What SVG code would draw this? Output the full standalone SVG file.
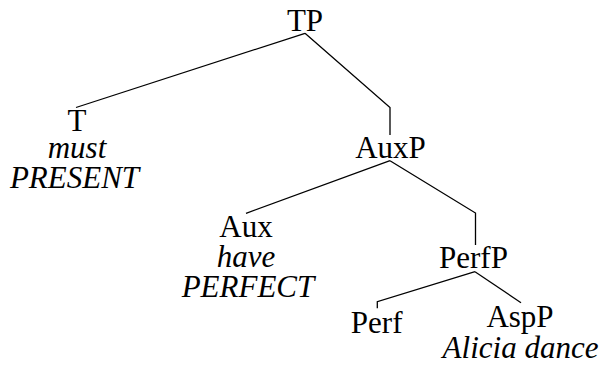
<svg xmlns="http://www.w3.org/2000/svg" width="602" height="369" viewBox="0 0 602 369">
<style>
text{font-family:"Liberation Serif","Times New Roman",serif;font-size:31px;fill:#000;text-anchor:middle}
.i{font-style:italic}
.e{fill:none;stroke:#000;stroke-width:1.3}
</style>
<rect width="602" height="369" fill="#fff"/>
<g id="connectors">
<polyline class="e" points="76,107.5 305,33.3"/>
<polyline class="e" points="305,33.3 390,107.5 390,135"/>
<polyline class="e" points="246,213.3 390,160.7"/>
<polyline class="e" points="390,160.7 475.5,213 475.5,245"/>
<polyline class="e" points="377.3,308.3 377.3,301.7 475,271.7"/>
<polyline class="e" points="475,271.7 521,302.7"/>
</g>
<g id="TP"><text x="305" y="31">TP</text></g>
<g id="T"><text x="77" y="131">T</text><text class="i" x="77" y="158.3">must</text><text class="i" x="74.5" y="188.3">PRESENT</text></g>
<g id="AuxP"><text x="390.5" y="157.7">AuxP</text></g>
<g id="Aux"><text x="246" y="236.7">Aux</text><text class="i" x="246" y="266.7">have</text><text class="i" x="248" y="297">PERFECT</text></g>
<g id="PerfP"><text x="473.5" y="268.3">PerfP</text></g>
<g id="Perf"><text x="376.7" y="333.3">Perf</text></g>
<g id="AspP"><text x="520" y="326.7">AspP</text><text class="i" x="520.5" y="358.3">Alicia dance</text></g>
</svg>
